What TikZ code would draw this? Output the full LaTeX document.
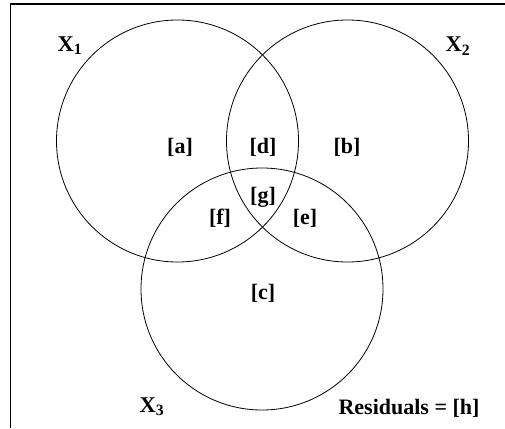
\documentclass[tikz,border=0pt]{standalone}
\usepackage{fontspec}
\setmainfont{Liberation Serif}
\usepackage{tikz}
\usetikzlibrary{positioning}
\tikzset{
	setcircle/.style={circle, draw=black, line width=0.8pt, minimum size=242pt, inner sep=0pt},
	region/.style   ={font=\fontsize{22}{26}\selectfont\bfseries, inner sep=0pt},
	setlabel/.style ={font=\fontsize{22.5}{26}\selectfont\bfseries, inner sep=0pt},
	frameline/.style={line width=1.1pt},
}

\begin{document}
\begin{tikzpicture}[x=1pt, y=-1pt]
	\useasboundingbox (0,0) rectangle (505,428);
	\draw[frameline] (10.5,428) -- (10.5,4) -- (505,4);
	% the three sets
	\node[setcircle] (x1) at (177.5,141) {};
	\node[setcircle] (x2) at (347.5,141) {};
	\node[setcircle] (x3) at (262,289) {};
	% set names
	\node[setlabel] (lx1) at (70,46) {X\textsubscript{1}};
	\node[setlabel] (lx2) at (458,46) {X\textsubscript{2}};
	\node[setlabel] (lx3) at (152,407) {X\textsubscript{3}};
	% regions
	\node[region] (ra) at (180,147) {[a]};
	\node[region] (rd) at (263,147) {[d]};
	\node[region] (rb) at (347,147) {[b]};
	\node[region] (rg) at (263,197) {[g]};
	\node[region] (rf) at (220,218) {[f]};
	\node[region] (re) at (305,218) {[e]};
	\node[region] (rc) at (263,293) {[c]};
	\node[region] (rh) at (409,408) {Residuals = [h]};
\end{tikzpicture}
\end{document}
